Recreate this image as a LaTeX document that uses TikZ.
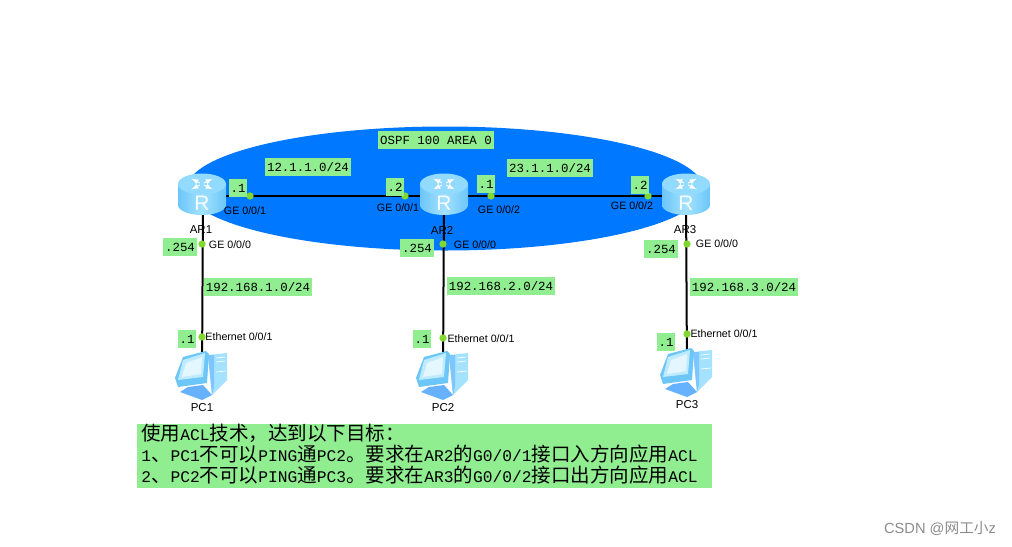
\documentclass[tikz,border=0pt]{standalone}
\usepackage{fontspec}
\setmainfont{Liberation Sans}
\setmonofont{Liberation Mono}
\newfontfamily\cjk{Noto Sans CJK SC}
\newfontfamily\cjkbig[Scale=1.2]{Noto Sans CJK SC}
\newcommand{\hz}[1]{{\cjkbig #1}}
\usetikzlibrary{positioning}
\definecolor{areablue}{HTML}{0078FF}
\definecolor{notegreen}{HTML}{90EE90}
\definecolor{portgreen}{HTML}{80D830}
\definecolor{icontop}{HTML}{93DAFF}
\definecolor{iconlight}{HTML}{A4E2FF}
\definecolor{icondark}{HTML}{6CC6F8}
\definecolor{iconbase}{HTML}{66B2FF}
\tikzset{
    link/.style={black,line width=1.5pt},
    port/.style={circle,fill=portgreen,inner sep=0pt,minimum size=5.5pt},
    tag/.style={fill=notegreen,font=\ttfamily\fontsize{9.3pt}{11pt}\selectfont,inner xsep=1.5pt,inner ysep=0pt,minimum height=13.5pt},
    portname/.style={font=\fontsize{8pt}{10pt}\selectfont,inner sep=0pt},
    devname/.style={font=\fontsize{8.6pt}{10pt}\selectfont,inner sep=0pt},
    router/.pic={
        \path[left color=icondark,right color=icondark,middle color=iconlight]
            (-24,-14) -- (-24,7) arc[start angle=180,end angle=0,x radius=24,y radius=10] -- (24,-14) -- cycle;
        \path[fill=icontop] (0,-14) ellipse[x radius=24,y radius=10.5];
        \foreach \a in {45,135,225,315}{
            \draw[white,line width=.8pt,->,>=latex] (0,-14) ++(\a:3 and 1.5) -- ++(\a:12 and 6);
        }
        \node[text=white!90!iconlight,inner sep=0pt,font=\fontsize{15.7pt}{16pt}\selectfont] at (0,5.5) {R};
    },
    computer/.pic={
        \path[fill=iconlight] (6,-20) -- (25,-22) -- (25,5) -- (10,20) -- cycle;
        \path[fill=iconbase!60!iconlight] (6,-20) -- (12,-20) -- (12,12) -- (10,20) -- cycle;
        \draw[white,line width=.5pt] (14,-17) -- (23,-18) (14,-13) -- (23,-14) (14,-3) -- (24,-4);
        \path[fill=iconbase] (-22,17) -- (-14,12) -- (1,10) -- (10,20) -- (0,25) -- cycle;
        \path[fill=icondark] (-27,3) -- (-19,-18) -- (4,-24) -- (7,-21) -- (5,8) -- (-24,12) -- cycle;
        \path[fill=iconlight!70!white] (-24,5) -- (-19,-15) -- (3,-22) -- (1,2) -- cycle;
        \path[fill=white!70!iconlight] (-20,2) -- (-16,-12) -- (0,-18) -- (-1,-1) -- cycle;
    },
}
\begin{document}
\begin{tikzpicture}[x=0.75pt,y=-0.75pt]
    \useasboundingbox[fill=white] (0,0) rectangle (1012,546);
    \path[fill=areablue] (445,188.5) ellipse[x radius=258,y radius=62];

    \coordinate (AR1) at (203,196);
    \coordinate (AR2) at (444,196);
    \coordinate (AR3) at (686,196);
    \coordinate (PC1) at (202,375);
    \coordinate (PC2) at (443,375);
    \coordinate (PC3) at (687,372);

    \draw[link] (AR1) -- (AR2);
    \draw[link] (AR2) -- (AR3);
    \draw[link] (AR1) -- (PC1);
    \draw[link] (AR2) -- (PC2);
    \draw[link] (AR3) -- (PC3);

    \pic at (202,198) {router};
    \pic at (444,198) {router};
    \pic at (686,198) {router};
    \pic at (PC1) {computer};
    \pic at (PC2) {computer};
    \pic at (PC3) {computer};

    \node[port] (p1) at (250,196) {};
    \node[port] (p2) at (405,196) {};
    \node[port] (p3) at (491,196) {};
    \node[port] (p4) at (648,196) {};
    \node[port] (p5) at (202,244) {};
    \node[port] (p6) at (443,244) {};
    \node[port] (p7) at (687,244) {};
    \node[port] (p8) at (202,337) {};
    \node[port] (p9) at (443,338) {};
    \node[port] (p10) at (687,334) {};

    \node[tag] (area) at (436,140) {OSPF 100 AREA 0};
    \node[tag] (net1) at (308,167) {12.1.1.0/24};
    \node[tag] (net2) at (550,168) {23.1.1.0/24};
    \node[tag] (net3) at (258,287) {192.168.1.0/24};
    \node[tag] (net4) at (501,286) {192.168.2.0/24};
    \node[tag] (net5) at (744,287) {192.168.3.0/24};
    \node[tag] (ip1) at (238,188) {.1};
    \node[tag] (ip2) at (395,187) {.2};
    \node[tag] (ip3) at (486,184) {.1};
    \node[tag] (ip4) at (640,185) {.2};
    \node[tag] (ip5) at (180,247) {.254};
    \node[tag] (ip6) at (417,248) {.254};
    \node[tag] (ip7) at (661,249) {.254};
    \node[tag] (ip8) at (187,339) {.1};
    \node[tag] (ip9) at (422,339) {.1};
    \node[tag] (ip10) at (666,342) {.1};

    \node[portname] (g1) at (245,211) {GE 0/0/1};
    \node[portname] (g2) at (398,208) {GE 0/0/1};
    \node[portname] (g3) at (499,210) {GE 0/0/2};
    \node[portname] (g4) at (632,206) {GE 0/0/2};
    \node[portname] (g5) at (230,245) {GE 0/0/0};
    \node[portname] (g6) at (475,245) {GE 0/0/0};
    \node[portname] (g7) at (717,244) {GE 0/0/0};
    \node[portname] (e1) at (239,337) {Ethernet 0/0/1};
    \node[portname] (e2) at (481,339) {Ethernet 0/0/1};
    \node[portname] (e3) at (724,334) {Ethernet 0/0/1};

    \node[devname] (n1) at (201,230) {AR1};
    \node[devname] (n2) at (442,230) {AR2};
    \node[devname] (n3) at (685,230) {AR3};
    \node[devname] (n4) at (202,408) {PC1};
    \node[devname] (n5) at (443,408) {PC2};
    \node[devname] (n6) at (687,405) {PC3};

    \node[fill=notegreen,anchor=north west,minimum width=431.25pt,minimum height=48pt,inner sep=0pt] (goalbox) at (137,424) {};
    \node[anchor=north west,inner sep=0pt,align=left,font=\ttfamily\fontsize{12.2pt}{16pt}\selectfont] (goal) at (141,423.5) {%
        \hz{使用}ACL\hz{技术，达到以下目标：}\\
        1\hz{、}PC1\hz{不可以}PING\hz{通}PC2\hz{。要求在}AR2\hz{的}G0/0/1\hz{接口入方向应用}ACL\\
        2\hz{、}PC2\hz{不可以}PING\hz{通}PC3\hz{。要求在}AR3\hz{的}G0/0/2\hz{接口出方向应用}ACL};

    \node[text=black!45,inner sep=0pt,font=\fontsize{11pt}{12pt}\selectfont] (mark) at (940,528) {CSDN @{\cjk 网工小}z};
\end{tikzpicture}
\end{document}
